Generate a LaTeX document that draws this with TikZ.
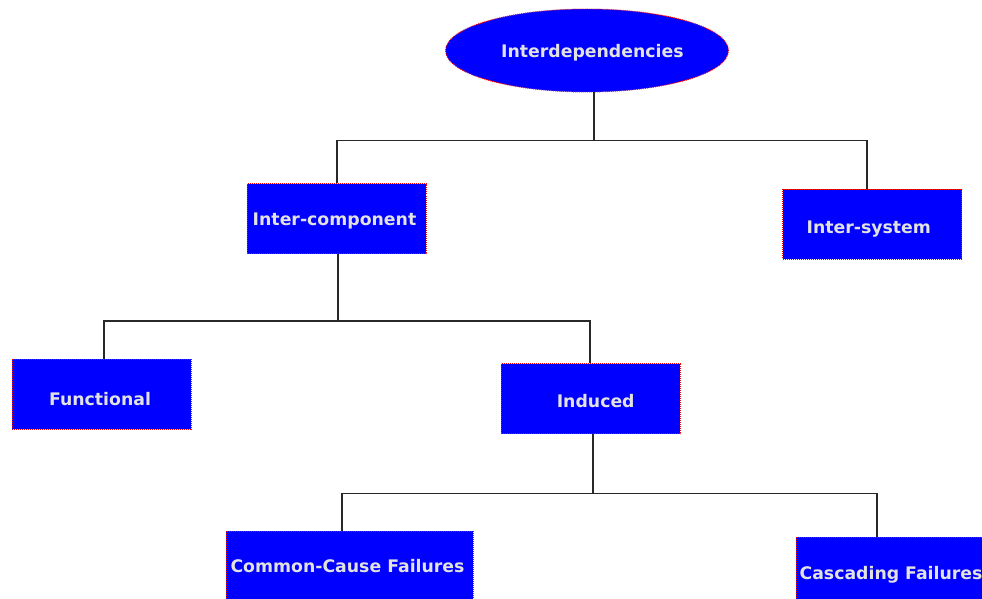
\documentclass[tikz,border=0pt]{standalone}
\usepackage{fontspec}
\setmainfont{DejaVu Sans}
\usetikzlibrary{shapes.geometric}
\definecolor{boxblue}{RGB}{0,0,255}
\definecolor{txtgray}{RGB}{226,226,226}
\definecolor{linegray}{RGB}{40,40,40}
\begin{document}
\begin{tikzpicture}[x=1pt,y=-1pt,
  base/.style={fill=boxblue, draw=red, line width=0.9pt, dash pattern=on 1pt off 1pt,
    text=txtgray, font=\fontsize{17.3}{20}\selectfont\bfseries, inner sep=0pt, text depth=0pt},
  boxnode/.style={base, rectangle, minimum width=179pt, minimum height=70pt},
  ovalnode/.style={base, ellipse, minimum width=283pt, minimum height=83pt},
  bl/.style={text height=#1},
  shr/.style={execute at begin node=\hspace*{#1}},
  shl/.style={execute at end node=\hspace*{#1}},
  conn/.style={draw=linegray, line width=1.3pt}]
\useasboundingbox (0,0) rectangle (982,599);
\node[ovalnode, bl=13.6pt, shr=10.8pt] (root) at (587,50.5) {Interdependencies};
\node[boxnode, bl=14.8pt, shl=4pt] (ic) at (336.5,218.5) {Inter-component};
\node[boxnode, bl=18.2pt, shl=6.4pt] (is) at (872,224) {Inter-system};
\node[boxnode, bl=23.4pt, shl=3pt] (fn) at (101.5,394) {Functional};
\node[boxnode, bl=18pt, shr=10.4pt] (ind) at (590.5,398.5) {Induced};
\node[boxnode, minimum width=247pt, bl=13.4pt, shl=4pt] (cc) at (349.5,566) {Common-Cause Failures};
\node[boxnode, minimum width=190pt, bl=15.4pt] (cf) at (891,572) {Cascading Failures};
\coordinate (b1) at (594,140.5);
\coordinate (b2) at (338,321);
\coordinate (b3) at (593,493.5);
\draw[conn] ([xshift=7pt]root.south) -- (b1);
\draw[conn] ([xshift=0.5pt]ic.north) |- (b1) -| ([xshift=-5pt]is.north);
\draw[conn] ([xshift=1.5pt]ic.south) -- (b2);
\draw[conn] ([xshift=2.5pt]fn.north) |- (b2) -| ([xshift=-0.5pt]ind.north);
\draw[conn] ([xshift=2.5pt]ind.south) -- (b3);
\draw[conn] ([xshift=-7.5pt]cc.north) |- (b3) -| ([xshift=-14pt]cf.north);
\end{tikzpicture}
\end{document}
